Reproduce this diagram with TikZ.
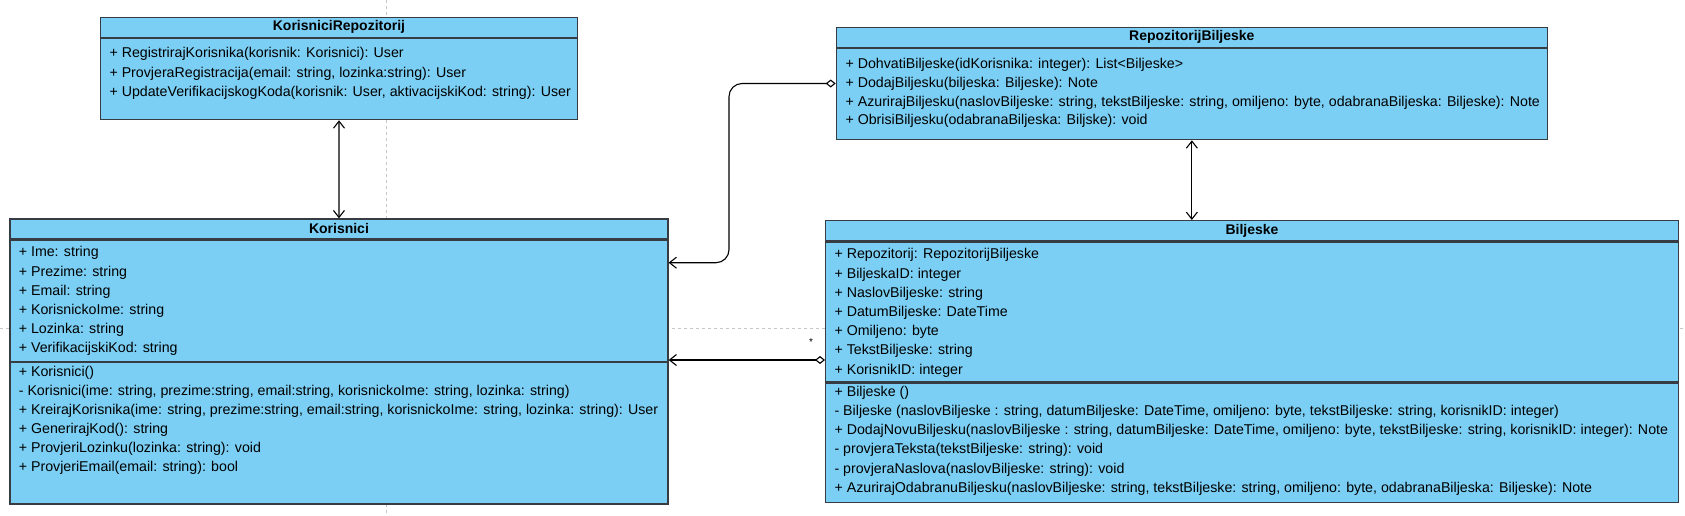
\documentclass[tikz,border=0pt]{standalone}
\usepackage{fontspec}
\setmainfont{Liberation Sans}
\usetikzlibrary{arrows.meta}
\definecolor{classfill}{RGB}{123,207,244}
\definecolor{classline}{RGB}{54,60,66}
\definecolor{guide}{RGB}{198,198,198}

\begin{document}
\begin{tikzpicture}[x=1pt,y=-1pt,line width=1.1pt,
  head/.style={draw=classline,fill=classfill,line width=1.3pt,anchor=north west,minimum height=20pt,inner sep=0pt,font=\bfseries\fontsize{14}{16}\selectfont},
  part/.style={draw=classline,fill=classfill,line width=1.3pt,anchor=north west,inner sep=0pt},
  item/.style={anchor=west,inner sep=0pt,font=\fontsize{14.2}{16}\selectfont},
  open/.style={{Straight Barb[length=7pt,width=11pt]}-{Straight Barb[length=7pt,width=11pt]}},
  agg/.style={{Diamond[open,length=10pt,width=8pt]}-{Straight Barb[length=7pt,width=11pt]},rounded corners=13pt}]
\useasboundingbox (0,0) rectangle (1685,515);
% page guides
\draw[guide,line width=0.7pt,dash pattern=on 3pt off 3pt] (386.5,0) -- (386.5,515);
\draw[guide,line width=0.7pt,dash pattern=on 3pt off 3pt] (0,328.3) -- (1685,328.3);
% KorisniciRepozitorij
\node[head,minimum width=476.7pt] (krT) at (100,16.7) {KorisniciRepozitorij};
\node[part,minimum width=476.7pt,minimum height=81pt] (krM) at (krT.south west) {};
\foreach \t [count=\i] in {{+ RegistrirajKorisnika(korisnik: Korisnici): User},
  {+ ProvjeraRegistracija(email: string, lozinka:string): User},
  {+ UpdateVerifikacijskogKoda(korisnik: User, aktivacijskiKod: string): User}}
  \node[item] (krM-\i) at ([shift={(9,{16.3+19.5*(\i-1)})}]krM.north west) {\t};
% Korisnici
\node[head,minimum width=658pt] (koT) at (9.3,218.3) {Korisnici};
\node[part,minimum width=658pt,minimum height=121pt] (koA) at (koT.south west) {};
\node[part,minimum width=658pt,minimum height=141.4pt] (koM) at (koA.south west) {};
\foreach \t [count=\i] in {{+ Ime: string},{+ Prezime: string},{+ Email: string},
  {+ KorisnickoIme: string},{+ Lozinka: string},{+ VerifikacijskiKod: string}}
  \node[item] (koA-\i) at ([shift={(9,{13.7+19.2*(\i-1)})}]koA.north west) {\t};
\foreach \t [count=\i] in {{+ Korisnici()},
  {- Korisnici(ime: string, prezime:string, email:string, korisnickoIme: string, lozinka: string)},
  {+ KreirajKorisnika(ime: string, prezime:string, email:string, korisnickoIme: string, lozinka: string): User},
  {+ GenerirajKod(): string},{+ ProvjeriLozinku(lozinka: string): void},
  {+ ProvjeriEmail(email: string): bool}}
  \node[item] (koM-\i) at ([shift={(9,{10.7+19.1*(\i-1)})}]koM.north west) {\t};
% RepozitorijBiljeske
\node[head,minimum width=711pt] (rbT) at (835.7,26.7) {RepozitorijBiljeske};
\node[part,minimum width=711pt,minimum height=91pt] (rbM) at (rbT.south west) {};
\foreach \t [count=\i] in {{+ DohvatiBiljeske(idKorisnika: integer): List<Biljeske>},
  {+ DodajBiljesku(biljeska: Biljeske): Note},
  {+ AzurirajBiljesku(naslovBiljeske: string, tekstBiljeske: string, omiljeno: byte, odabranaBiljeska: Biljeske): Note},
  {+ ObrisiBiljesku(odabranaBiljeska: Biljske): void}}
  \node[item] (rbM-\i) at ([shift={(9.3,{16.6+18.9*(\i-1)})}]rbM.north west) {\t};
% Biljeske
\node[head,minimum width=852.7pt] (biT) at (825,220) {Biljeske};
\node[part,minimum width=852.7pt,minimum height=140pt] (biA) at (biT.south west) {};
\node[part,minimum width=852.7pt,minimum height=119.3pt] (biM) at (biA.south west) {};
\foreach \t [count=\i] in {{+ Repozitorij: RepozitorijBiljeske},{+ BiljeskaID: integer},
  {+ NaslovBiljeske: string},{+ DatumBiljeske: DateTime},{+ Omiljeno: byte},
  {+ TekstBiljeske: string},{+ KorisnikID: integer}}
  \node[item] (biA-\i) at ([shift={(9,{14+19.2*(\i-1)})}]biA.north west) {\t};
\foreach \t [count=\i] in {{+ Biljeske ()},
  {- Biljeske (naslovBiljeske : string, datumBiljeske: DateTime, omiljeno: byte, tekstBiljeske: string, korisnikID: integer)},
  {+ DodajNovuBiljesku(naslovBiljeske : string, datumBiljeske: DateTime, omiljeno: byte, tekstBiljeske: string, korisnikID: integer): Note},
  {- provjeraTeksta(tekstBiljeske: string): void},
  {- provjeraNaslova(naslovBiljeske: string): void},
  {+ AzurirajOdabranuBiljesku(naslovBiljeske: string, tekstBiljeske: string, omiljeno: byte, odabranaBiljeska: Biljeske): Note}}
  \node[item] (biM-\i) at ([shift={(9,{10+19.2*(\i-1)})}]biM.north west) {\t};
% connectors
\coordinate (bend) at (729,0);
\coordinate (y1) at (0,262.7);
\coordinate (y2) at (0,360);
\draw[open] (krM.south) -- (koT.north);
\draw[open] (rbM.south) -- (rbM.south |- biT.north);
\draw[agg] (rbM.west |- rbM-2) -| (bend |- y1) -- (koA.east |- y1);
\draw[agg] (biA.west |- y2) -- (koA.east |- y2);
\node[font=\fontsize{10}{12}\selectfont,inner sep=0pt] (mult) at (811,341.7) {*};
\end{tikzpicture}
\end{document}
